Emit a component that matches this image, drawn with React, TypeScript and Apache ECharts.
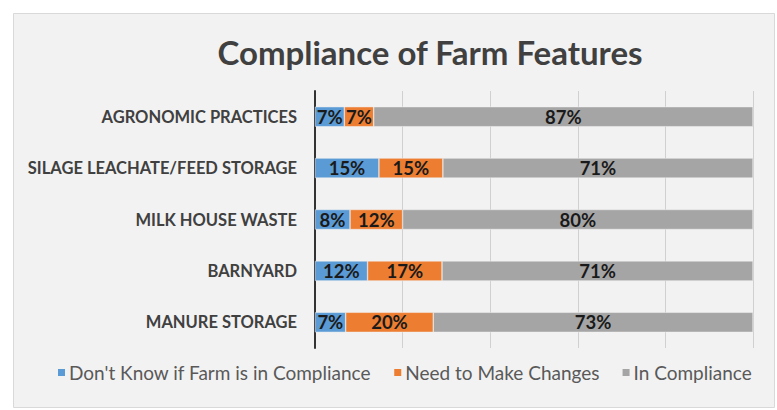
import React, { useEffect, useRef } from "react";
import * as echarts from "echarts";

const categories = [
  "MANURE STORAGE",
  "BARNYARD",
  "MILK HOUSE WASTE",
  "SILAGE LEACHATE/FEED STORAGE",
  "AGRONOMIC PRACTICES",
];
const seriesNames = [
  "Don't Know if Farm is in Compliance",
  "Need to Make Changes",
  "In Compliance",
];
const dontKnow = [7, 12, 8, 14.6, 6.7];
const needChanges = [20, 17, 12, 14.6, 6.7];
const inCompliance = [73, 71, 80, 70.8, 86.6];
const colors = ["#5b9bd5", "#ed7d31", "#a5a5a5"];
const titleText = "Compliance of Farm Features";

export default function App() {
  const ref = useRef<HTMLDivElement>(null);
  useEffect(() => {
    if (!ref.current) return;
    const chart = echarts.init(ref.current, null, { renderer: "svg" });
    const font = "Lato, 'Open Sans', sans-serif";
    const values = [dontKnow, needChanges, inCompliance];
    chart.setOption({
      animation: false,
      backgroundColor: "#ffffff",
      textStyle: { fontFamily: font },
      graphic: [
        {
          type: "rect",
          z: -10,
          silent: true,
          shape: { x: 13.5, y: 13.5, width: 761, height: 394 },
          style: { fill: "#f2f2f2", stroke: "#d9d9d9", lineWidth: 1 },
        },
        {
          type: "text",
          x: 430,
          y: 52,
          style: {
            text: titleText,
            fontFamily: font,
            fontSize: 33,
            fontWeight: "bold",
            fill: "#404040",
            textAlign: "center",
            textVerticalAlign: "middle",
          },
        },
      ],
      legend: {
        left: 51,
        top: 358,
        itemWidth: 9,
        itemHeight: 9,
        itemGap: 21,
        icon: "rect",
        textStyle: { fontSize: 19, color: "#595959", fontFamily: font, padding: [0, 0, 0, -2] },
        data: seriesNames,
      },
      grid: { left: 315, right: 24, top: 91, bottom: 62 },
      xAxis: {
        type: "value",
        min: 0,
        max: 100,
        interval: 20,
        axisLabel: { show: false },
        axisLine: { show: false },
        axisTick: { show: false },
        splitLine: { lineStyle: { color: "#d0d0d0", width: 1 } },
      },
      yAxis: {
        type: "category",
        data: categories,
        axisTick: { show: false },
        axisLine: { lineStyle: { color: "#333333", width: 2 } },
        axisLabel: {
          fontSize: 16.5,
          fontWeight: "bold",
          color: "#404040",
          margin: 18,
          fontFamily: font,
        },
      },
      series: seriesNames.map((name, i) => ({
        name,
        type: "bar",
        stack: "total",
        barWidth: 20,
        data: values[i],
        itemStyle: { color: colors[i], borderColor: "#f2f2f2", borderWidth: 0.5 },
        label: {
          show: true,
          position: "inside",
          formatter: (p: any) => Math.round(p.value) + "%",
          fontSize: 18.5,
          fontWeight: "bold",
          color: "#1a1a1a",
          fontFamily: font,
        },
      })),
    });
    return () => chart.dispose();
  }, []);
  return (
    <div
      ref={ref}
      style={{ position: "fixed", left: 0, top: 0, width: 777, height: 410 }}
    />
  );
}
